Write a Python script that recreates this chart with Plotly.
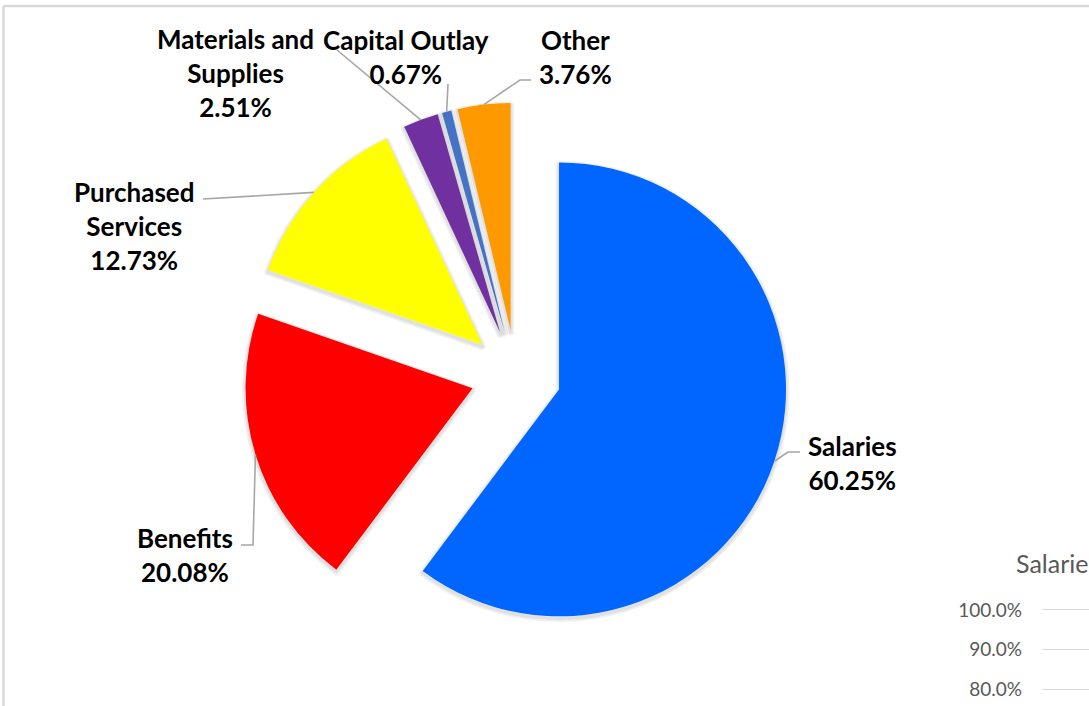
import math
import plotly.graph_objects as go

# ---- data -------------------------------------------------------------
categories = ["Salaries", "Benefits", "Purchased Services",
              "Materials and Supplies", "Capital Outlay", "Other"]
shares = [60.25, 20.08, 12.73, 2.51, 0.67, 3.76]  # percent of total
colors = ["#0066FF", "#FF0000", "#FFFF00", "#7030A0", "#4472C4", "#FF9900"]

# small companion chart (only its top edge is visible)
side_title = "Salaries"
side_ticks = [0.8, 0.9, 1.0]

# ---- layout constants ---------------------------------------------------
W, H = 1089, 706
PULL = 0.2
dom_x = [0.1738, 0.7738]
dom_y = [0.0830, 0.8546]

# how each category name wraps in its label
wrapped = {
    "Purchased Services": "Purchased<br>Services",
    "Materials and Supplies": "Materials and<br>Supplies",
}
# label block centres (px) and leader-line elbow/end points (px)
label_pos = {
    "Salaries": (852, 463),
    "Benefits": (185, 555),
    "Purchased Services": (134, 226),
    "Materials and Supplies": (235, 73),
    "Capital Outlay": (406, 57),
    "Other": (575, 57),
}
leader_pts = {
    "Salaries": [(788, 452), (800, 452)],
    "Benefits": [(253, 545), (241, 545)],
    "Purchased Services": [(203, 199)],
    "Materials and Supplies": [(337, 50)],
    "Capital Outlay": [(448, 84)],
    "Other": [(520, 80), (531, 80)],
}

fig = go.Figure()

# soft drop shadow: same slices, transparent fill, faint wide outline,
# nudged a little downward and drawn beneath the coloured pie
shadow_dy = 2 / H
for lw in (7, 3.5):
    fig.add_trace(go.Pie(
        labels=categories,
        values=shares,
        sort=False,
        direction="clockwise",
        rotation=0,
        pull=[PULL] * len(shares),
        marker=dict(colors=["rgba(0,0,0,0)"] * len(shares),
                    line=dict(width=lw, color="rgba(0,0,0,0.06)")),
        textinfo="none",
        hoverinfo="skip",
        showlegend=False,
        domain=dict(x=dom_x, y=[dom_y[0] - shadow_dy, dom_y[1] - shadow_dy]),
    ))

fig.add_trace(go.Pie(
    labels=categories,
    values=shares,
    sort=False,
    direction="clockwise",
    rotation=0,
    pull=[PULL] * len(shares),
    marker=dict(colors=colors, line=dict(width=0)),
    textinfo="none",
    hoverinfo="label+percent",
    showlegend=False,
    domain=dict(x=dom_x, y=dom_y),
))

# pie geometry in pixels, same rule plotly uses to size the pie
r = min(W * (dom_x[1] - dom_x[0]), H * (dom_y[1] - dom_y[0])) / (2 * (1 + PULL))
cx = W * (dom_x[0] + dom_x[1]) / 2
cy = H * (1 - (dom_y[0] + dom_y[1]) / 2)


def to_paper(p):
    return p[0] / W, 1 - p[1] / H


total = sum(shares)
cum = 0.0
shapes = []
annotations = []
for name, v in zip(categories, shares):
    mid = math.radians(360 * (cum + v / 2) / total)
    cum += v
    ax = cx + (1 + PULL) * r * math.sin(mid)
    ay = cy - (1 + PULL) * r * math.cos(mid)
    pts = [(ax, ay)] + leader_pts[name]
    pp = [to_paper(p) for p in pts]
    path = "M " + " L ".join(f"{x:.5f},{y:.5f}" for x, y in pp)
    shapes.append(dict(type="path", xref="paper", yref="paper", path=path,
                       line=dict(color="#A6A6A6", width=1.6)))
    lx, ly = to_paper(label_pos[name])
    annotations.append(dict(
        x=lx, y=ly, xref="paper", yref="paper",
        xanchor="center", yanchor="middle", align="center",
        text=f"{wrapped.get(name, name)}<br>{v:.2f}%",
        showarrow=False,
        font=dict(family="Lato", size=26, color="#000000", weight="bold"),
    ))

# companion chart title (runs off the right edge)
annotations.append(dict(
    x=1014 / W, y=1 - 563 / H, xref="paper", yref="paper",
    xanchor="left", yanchor="middle", text=side_title, showarrow=False,
    font=dict(family="Lato", size=25, color="#595959"),
))

# chart-area border (top and left edges)
shapes.append(dict(type="line", xref="paper", yref="paper",
                   x0=3.5 / W, x1=1.0, y0=1 - 6 / H, y1=1 - 6 / H,
                   line=dict(color="#D9D9D9", width=2.5)))
shapes.append(dict(type="line", xref="paper", yref="paper",
                   x0=3.5 / W, x1=3.5 / W, y0=1 - 6 / H, y1=0,
                   line=dict(color="#D9D9D9", width=2.5)))

# empty companion axes
fig.add_trace(go.Scatter(x=[], y=[], xaxis="x2", yaxis="y2",
                         showlegend=False, hoverinfo="skip"))

fig.update_layout(
    width=W, height=H,
    margin=dict(l=0, r=0, t=0, b=0, pad=0, autoexpand=False),
    paper_bgcolor="white", plot_bgcolor="white",
    shapes=shapes,
    annotations=annotations,
    xaxis=dict(visible=False),
    yaxis=dict(visible=False),
    xaxis2=dict(domain=[1043 / W, 1.0], anchor="y2", visible=False,
                range=[0, 1]),
    yaxis2=dict(domain=[0.0, 0.14], anchor="x2", range=[0.757, 1.0071],
                tickvals=side_ticks, tickformat=".1%",
                showgrid=True, gridcolor="#D9D9D9", gridwidth=1,
                zeroline=False, showline=False, ticks="",
                ticklabelstandoff=20,
                tickfont=dict(family="Lato", size=19, color="#595959")),
)

# let the figure sit flush with the page corner
fig.write_html(
    "out.html",
    post_script="document.body.style.margin='0';"
                "document.body.style.overflow='hidden';",
)
